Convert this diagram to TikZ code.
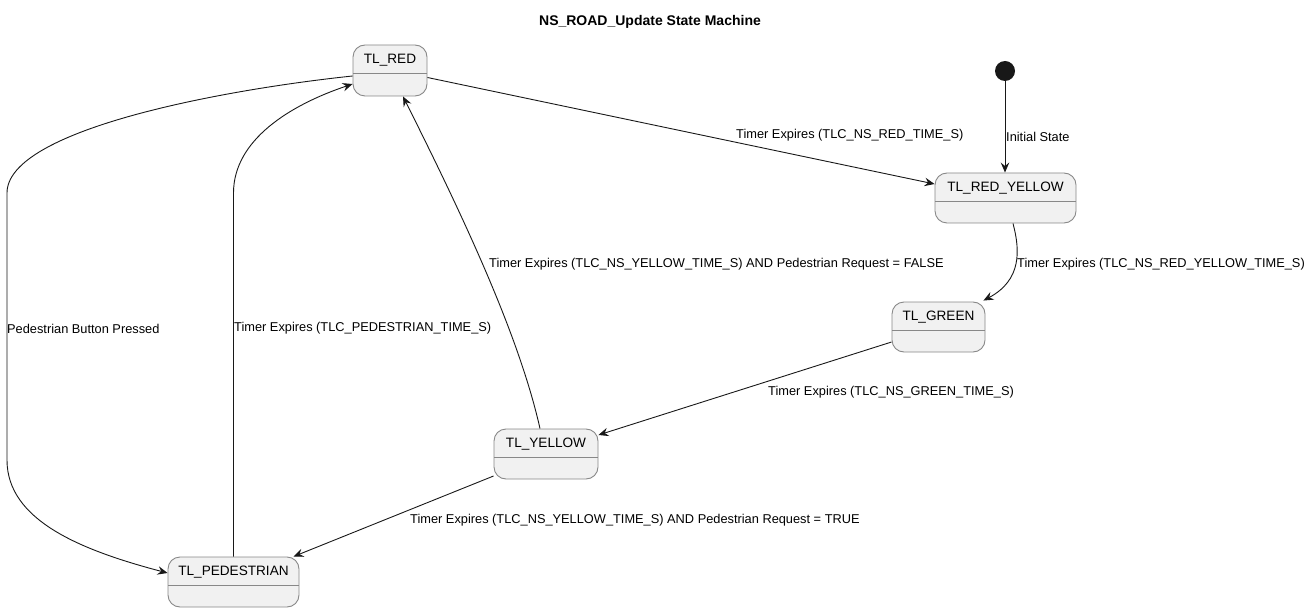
\documentclass[tikz,border=0pt]{standalone}
\usepackage{fontspec}
\setmainfont{Liberation Sans}
\usetikzlibrary{arrows.meta}
\definecolor{stfill}{HTML}{F1F1F1}
\definecolor{stline}{HTML}{888888}
\definecolor{edgecol}{HTML}{181818}
\tikzset{
  stbox/.style={draw=stline, line width=0.9pt, fill=stfill, rounded corners=12pt,
    inner sep=0pt, minimum height=50pt,
    path picture={\draw[stline, line width=0.9pt]
      ([yshift=-28pt]path picture bounding box.north west) --
      ([yshift=-28pt]path picture bounding box.north east);}},
  stname/.style={font=\fontsize{13.6}{16}\selectfont, text=black},
  lbl/.style={font=\fontsize{12.8}{15}\selectfont, inner sep=0pt, anchor=west, text=black},
  tr/.style={draw=edgecol, line width=0.9pt, -{Stealth[length=10pt,width=8.5pt,inset=3.5pt]}},
}
\begin{document}
\begin{tikzpicture}[x=1pt,y=-1pt]
\useasboundingbox (0,0) rectangle (1313,612);
\node[font=\bfseries\fontsize{14}{16}\selectfont] (title) at (650,21.5) {NS\_ROAD\_Update State Machine};

\node[stbox, minimum width=74pt, minimum height=51pt,
  label={[stname, anchor=center, label distance=0pt, yshift=-16pt]north:TL\_RED}] (red) at (390,70.5) {};
\node[stbox, minimum width=141pt,
  label={[stname, anchor=center, label distance=0pt, yshift=-16pt]north:TL\_RED\_YELLOW}] (ry) at (1005.5,198) {};
\node[stbox, minimum width=93pt,
  label={[stname, anchor=center, label distance=0pt, yshift=-16pt]north:TL\_GREEN}] (green) at (938.5,327) {};
\node[stbox, minimum width=104pt,
  label={[stname, anchor=center, label distance=0pt, yshift=-16pt]north:TL\_YELLOW}] (yellow) at (546,454) {};
\node[stbox, minimum width=131pt,
  label={[stname, anchor=center, label distance=0pt, yshift=-16pt]north:TL\_PEDESTRIAN}] (ped) at (233.5,582) {};
\node[circle, fill=edgecol, minimum size=20pt, inner sep=0pt] (init) at (1005,71) {};

% edges
\draw[tr] ([yshift=-7pt]red.east) -- ([yshift=14pt]ry.west);
\draw[tr] (init.south) -- (init.south |- ry.north);
\draw[tr] ([xshift=7.5pt]ry.south) .. controls (1020,250) and (1022,280) .. ([xshift=-2pt,yshift=1pt]green.north east);
\draw[tr] ([yshift=-15pt]green.west) -- ([yshift=19pt]yellow.east);
\draw[tr] ([xshift=-6pt]yellow.north) .. controls (520,340) and (470,230) .. ([xshift=13pt]red.south);
\draw[tr] ([yshift=-22pt]yellow.west) -- ([xshift=60pt]ped.north);
\draw[tr] ([yshift=-5.5pt]red.west) .. controls (220,90) and (7,130) .. (7,193) -- (7,460)
  .. controls (7,520) and (80,550) .. ([yshift=9pt]ped.west);
\draw[tr] (ped.north) -- (233.5,193) .. controls (233.5,140) and (290,105) .. ([yshift=-13.5pt]red.west);

% labels
\node[lbl] (l1) at (736,135.5) {Timer Expires (TLC\_NS\_RED\_TIME\_S)};
\node[lbl] (l2) at (1006,136.5) {Initial State};
\node[lbl] (l3) at (1017,264.5) {Timer Expires (TLC\_NS\_RED\_YELLOW\_TIME\_S)};
\node[lbl] (l4) at (768,392.5) {Timer Expires (TLC\_NS\_GREEN\_TIME\_S)};
\node[lbl] (l5) at (489,264.5) {Timer Expires (TLC\_NS\_YELLOW\_TIME\_S) AND Pedestrian Request = FALSE};
\node[lbl] (l6) at (410,520.5) {Timer Expires (TLC\_NS\_YELLOW\_TIME\_S) AND Pedestrian Request = TRUE};
\node[lbl] (l7) at (7,328.5) {Pedestrian Button Pressed};
\node[lbl] (l8) at (234,328.5) {Timer Expires (TLC\_PEDESTRIAN\_TIME\_S)};
\end{tikzpicture}
\end{document}
